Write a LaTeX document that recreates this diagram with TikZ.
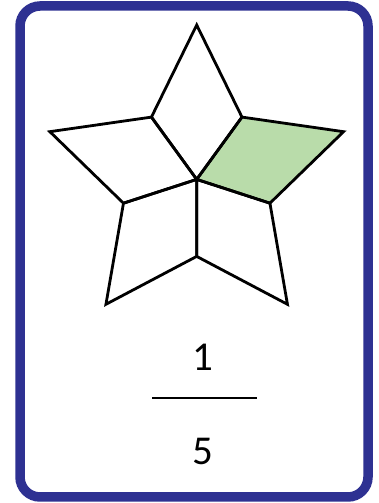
\documentclass[tikz,border=0pt]{standalone}
\usepackage{fontspec}
\setmainfont{Carlito}
\usepackage{xcolor}
\usepackage{tikz}
\usetikzlibrary{positioning, calc}

\definecolor{cardblue}{RGB}{46,49,146}
\definecolor{partgreen}{RGB}{185,220,170}

\begin{document}
\begin{tikzpicture}[x=1pt, y=1pt]
    \tikzstyle{card} = [draw=cardblue, line width=9.5pt, rounded corners=20pt]
    \tikzstyle{part} = [draw=black, line width=2.8pt, line join=miter]
    \tikzstyle{digit} = [inner sep=0pt, font=\fontsize{41}{49}\selectfont]
    \tikzstyle{bar} = [draw=black, line width=2.8pt]

    \useasboundingbox (0,0) rectangle (378,503);
    \draw [card] (20,6) rectangle (368,497);

    % star: five kites round the centre
    \coordinate (mid) at (196.7,323.6);
    \foreach \k in {0,...,4} {
        \coordinate (tip\k) at ($(mid)+({90+72*\k}:154.4)$);
        \coordinate (in\k) at ($(mid)+({126+72*\k}:77)$);
    }
    \fill [partgreen] (mid) -- (in4) -- (tip4) -- ($(mid)+(-18:77)$) -- cycle;
    \foreach \k [evaluate=\k as \j using {int(mod(\k+4,5))}] in {0,...,4}
        \draw [part] (mid) -- (in\j) -- (tip\k) -- (in\k) -- cycle;

    % fraction
    \node [digit] (num) at (203,145.5) {1};
    \node [digit] (den) at (203,51.5) {5};
    \coordinate (barl) at (152,105);
    \coordinate (barr) at (257,105);
    \path [bar] (barl) -- (barr);
\end{tikzpicture}
\end{document}
